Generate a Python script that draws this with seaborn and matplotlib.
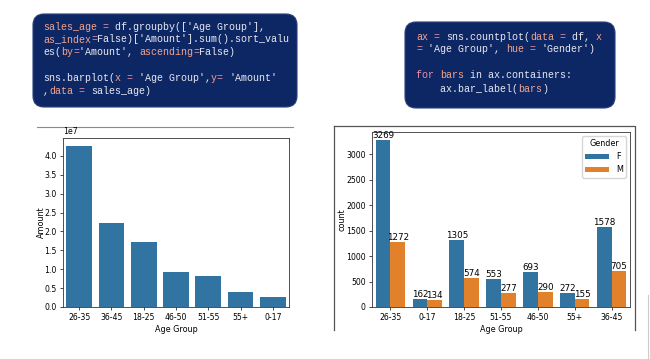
import numpy as np
import pandas as pd
import matplotlib
matplotlib.use("Agg")
import matplotlib.pyplot as plt
import seaborn as sns
from matplotlib.patches import FancyBboxPatch

# sales amount per age group (sorted, as in sales_age)
age_groups = ['26-35', '36-45', '18-25', '46-50', '51-55', '55+', '0-17']
amounts = [42613442, 22144994, 17240732, 9207844, 8261477, 4080987, 2699653]

# order counts per age group and gender
count_order = ['26-35', '0-17', '18-25', '51-55', '46-50', '55+', '36-45']
genders = ['F', 'M']
female_counts = [3269, 162, 1305, 553, 693, 272, 1578]
male_counts = [1272, 134, 574, 277, 290, 155, 705]

sales_age = pd.DataFrame({'Age Group': age_groups, 'Amount': amounts})

# rebuild one row per order so countplot can count them
rows_age = np.concatenate([np.repeat(count_order, female_counts),
                           np.repeat(count_order, male_counts)])
rows_gender = np.repeat(genders, [sum(female_counts), sum(male_counts)])
df = pd.DataFrame({'Age Group': rows_age, 'Gender': rows_gender})

plt.rcParams['font.size'] = 5.8
plt.rcParams['xtick.labelsize'] = 5.6
plt.rcParams['ytick.labelsize'] = 5.6
plt.rcParams['axes.labelsize'] = 5.8
plt.rcParams['axes.linewidth'] = 0.6
plt.rcParams['xtick.major.width'] = 0.5
plt.rcParams['ytick.major.width'] = 0.5
plt.rcParams['xtick.major.size'] = 2.5
plt.rcParams['ytick.major.size'] = 2.5
plt.rcParams['axes.edgecolor'] = '#333333'

W, H = 650, 359
fig = plt.figure(figsize=(6.5, 3.59), dpi=100)


def px_axes(x0, y0, x1, y1, **kw):
    return fig.add_axes([x0 / W, 1 - y1 / H, (x1 - x0) / W, (y1 - y0) / H], **kw)


# background layer in pixel units for the slide decoration
bg = px_axes(0, 0, W, H)
bg.set_xlim(0, W)
bg.set_ylim(H, 0)
bg.axis('off')
bg.set_zorder(0)

navy = '#0d2765'
for (x0, y0, x1, y1) in [(33, 14, 297, 107), (405, 22, 615, 108)]:
    bg.add_patch(FancyBboxPatch((x0, y0), x1 - x0, y1 - y0,
                                boxstyle="round,pad=0,rounding_size=11",
                                fc=navy, ec='#2a3f7a', lw=0.8))

SAL = '#f4a48c'
EQ = '#ee8fa4'
WH = '#e9e9ef'

code1 = [
    [('sales_age', SAL), (' = ', EQ), ("df.groupby(['Age Group'],", WH)],
    [('as_index', SAL), ('=', EQ), ("False)['Amount'].sum().sort_valu", WH)],
    [('es(', WH), ('by', SAL), ('=', EQ), ("'Amount', ", WH), ('ascending', SAL),
     ('=', EQ), ('False)', WH)],
    [],
    [('sns.barplot(', WH), ('x', SAL), (' = ', EQ), ("'Age Group',", WH), ('y', SAL),
     ('= ', EQ), ("'Amount'", WH)],
    [(',', WH), ('data', SAL), (' = ', EQ), ('sales_age)', WH)],
]
code2 = [
    [('ax', SAL), (' = ', EQ), ('sns.countplot(', WH), ('data', SAL), (' = ', EQ),
     ('df, ', WH), ('x', SAL)],
    [('=', EQ), (" 'Age Group', ", WH), ('hue', SAL), (' = ', EQ), ("'Gender')", WH)],
    [],
    [('for ', EQ), ('bars', SAL), (' in ax.containers:', WH)],
    [('    ax.bar_label(', WH), ('bars', SAL), (')', WH)],
]

fs_code = 7.2
cw = 0.6 * fs_code * 100 / 72


def draw_code(lines, x0, y_base, step):
    for i, segs in enumerate(lines):
        x = x0
        for txt, col in segs:
            bg.text(x, y_base + i * step, txt, color=col, fontsize=fs_code,
                    family='Liberation Mono', va='baseline', ha='left')
            x += len(txt) * cw


draw_code(code1, 43, 29.5, 12.9)
draw_code(code2, 416, 39.5, 13.0)

# screenshot edges
bg.plot([37, 293], [127, 127], color='#8a8a8a', lw=0.8)
bg.plot([334, 635, 635], [126, 126, 330], color='#555555', lw=0.9)
bg.plot([334, 334], [126, 330], color='#555555', lw=0.9)
bg.plot([648, 648], [295, 359], color='#cccccc', lw=0.8)

# left chart
ax1 = px_axes(63, 138, 289, 307)
sns.barplot(x='Age Group', y='Amount', data=sales_age, ax=ax1)
ax1.yaxis.get_offset_text().set_fontsize(5.6)

# right chart
ax2 = px_axes(372, 132, 630, 307)
sns.countplot(data=df, x='Age Group', hue='Gender', order=count_order,
              hue_order=genders, ax=ax2)
for bars in ax2.containers:
    ax2.bar_label(bars, fontsize=6.3, padding=0)
ax2.legend(title='Gender', loc='upper right', fontsize=5.8, title_fontsize=5.8,
           handlelength=3.0, frameon=True)

for ax in (ax1, ax2):
    ax.set_zorder(2)
    ax.xaxis.labelpad = 2
    ax.tick_params(pad=2)
ax1.yaxis.labelpad = -1
ax2.yaxis.labelpad = 0

fig.savefig('out.png', dpi=100, facecolor='white')
